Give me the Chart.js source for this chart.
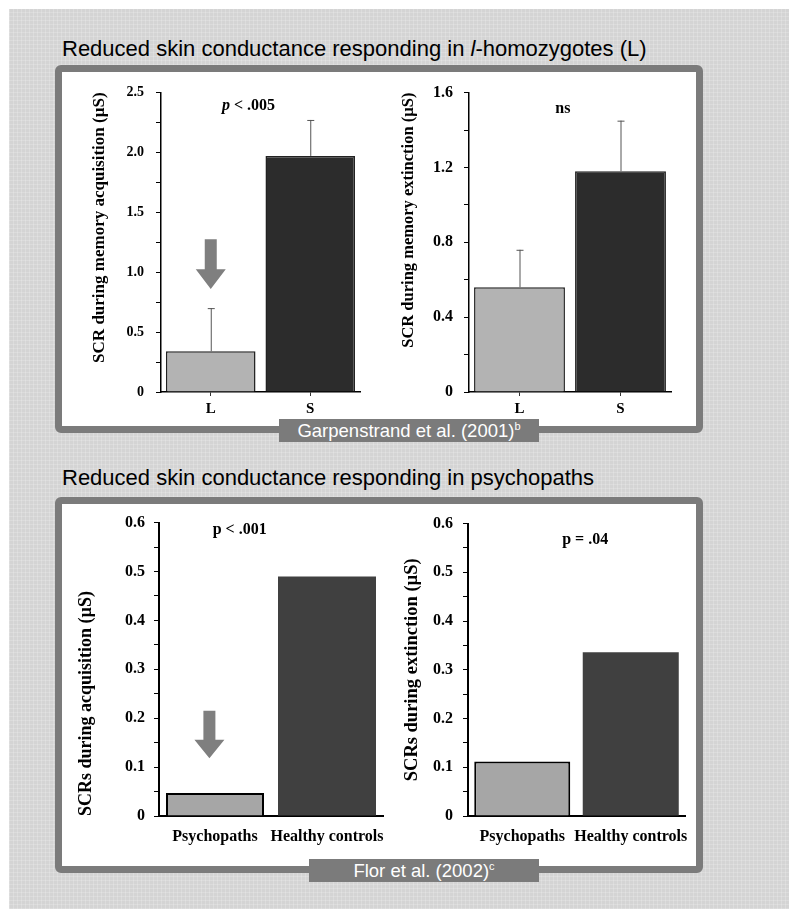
<!DOCTYPE html>
<html>
<head>
<meta charset="utf-8">
<script src="https://cdn.jsdelivr.net/npm/chart.js@4"></script>
<style>
  body { margin: 0; width: 799px; height: 919px; position: relative; background: #fff; overflow: hidden; }
  .bg {
    position: absolute; left: 9px; top: 9px; width: 780px; height: 900px;
    background:
      repeating-linear-gradient(0deg, rgba(255,255,255,0.18) 0 1px, transparent 1px 4px),
      repeating-linear-gradient(90deg, rgba(255,255,255,0.18) 0 1px, transparent 1px 4px),
      #d4d4d4;
  }
  .title { position: absolute; left: 62px; font: 22px "Liberation Sans", Arial, sans-serif; color: #000; line-height: 26px; white-space: nowrap; }
  .panel { position: absolute; left: 55px; width: 648px; box-sizing: border-box; border: 7px solid #7b7b7b; border-radius: 6px; background: #fff; }
  .cap { position: absolute; background: #7b7b7b; color: #fff; font: 18.5px "Liberation Sans", Arial, sans-serif; text-align: center; line-height: 23px; height: 23px; z-index: 3; }
  .cap sup { font-size: 11px; line-height: 0; vertical-align: 7px; }
  canvas { position: absolute; z-index: 2; }
</style>
</head>
<body>
<div class="bg"></div>
<div class="title" style="top:36px">Reduced skin conductance responding in <i>l</i>-homozygotes (L)</div>
<div class="panel" style="top:65px;height:368px"></div>
<div class="cap" style="left:279px;top:419px;width:260px">Garpenstrand et al. (2001)<sup>b</sup></div>
<div class="title" style="top:465px">Reduced skin conductance responding in psychopaths</div>
<div class="panel" style="top:497px;height:376px"></div>
<div class="cap" style="left:309px;top:859px;width:230px">Flor et al. (2002)<sup>c</sup></div>

<canvas id="c1"></canvas>
<canvas id="c2"></canvas>
<canvas id="c3"></canvas>
<canvas id="c4"></canvas>

<script>
// data
const geneGroups = ["L", "S"];
const geneAcq = [0.34, 1.97];
const geneAcqErr = [0.36, 0.30];
const geneExt = [0.56, 1.18];
const geneExtErr = [0.20, 0.27];
const geneAcqTicks = [0, 0.5, 1.0, 1.5, 2.0, 2.5];
const geneExtTicks = [0, 0.4, 0.8, 1.2, 1.6];

const psyGroups = ["Psychopaths", "Healthy controls"];
const psyAcq = [0.047, 0.49];
const psyExt = [0.112, 0.336];
const psyTicks = [0, 0.1, 0.2, 0.3, 0.4, 0.5, 0.6];

const serif = "'Liberation Serif', 'Times New Roman', serif";

// error bars, arrow and p-value note
const extras = {
  id: "extras",
  afterDatasetsDraw(chart, args, opts) {
    const { ctx, scales: { x, y } } = chart;
    const ds = chart.data.datasets[0];
    const meta = chart.getDatasetMeta(0);
    ctx.save();
    if (ds.errors) {
      ctx.strokeStyle = "#555";
      ctx.lineWidth = 1;
      meta.data.forEach((bar, i) => {
        const base = y.getPixelForValue(ds.data[i]);
        const top = y.getPixelForValue(ds.data[i] + ds.errors[i]);
        ctx.beginPath();
        ctx.moveTo(bar.x + 0.5, base);
        ctx.lineTo(bar.x + 0.5, top);
        ctx.moveTo(bar.x - 3, top + 0.5);
        ctx.lineTo(bar.x + 4, top + 0.5);
        ctx.stroke();
      });
    }
    if (opts.arrow) {
      const a = opts.arrow;
      const cx = x.getPixelForValue(a.index);
      const y0 = y.getPixelForValue(a.from);
      const y1 = y.getPixelForValue(a.head);
      const y2 = y.getPixelForValue(a.to);
      ctx.fillStyle = "#7f7f7f";
      ctx.beginPath();
      ctx.moveTo(cx - 6, y0);
      ctx.lineTo(cx + 6, y0);
      ctx.lineTo(cx + 6, y1);
      ctx.lineTo(cx + 15, y1);
      ctx.lineTo(cx, y2);
      ctx.lineTo(cx - 15, y1);
      ctx.lineTo(cx - 6, y1);
      ctx.closePath();
      ctx.fill();
    }
    if (opts.note) {
      const n = opts.note;
      const parts = n.parts;
      let total = 0;
      parts.forEach(p => { ctx.font = p[1]; total += ctx.measureText(p[0]).width; });
      let px = x.getPixelForValue(n.index) - total / 2;
      const py = y.getPixelForValue(n.value);
      ctx.fillStyle = "#000";
      ctx.textBaseline = "middle";
      ctx.textAlign = "left";
      parts.forEach(p => {
        ctx.font = p[1];
        ctx.fillText(p[0], px, py);
        px += ctx.measureText(p[0]).width;
      });
    }
    ctx.restore();
  }
};

function makeChart(id, box, area, spec) {
  const cv = document.getElementById(id);
  cv.width = box.w;
  cv.height = box.h;
  cv.style.left = box.x + "px";
  cv.style.top = box.y + "px";

  const titleOffset = spec.titleSize * 1.2 / 2;
  const padLeft = spec.titleX - box.x - titleOffset;
  const yWidth = area.left - box.x - padLeft;
  const xHeight = box.y + box.h - area.bottom;
  const isMajor = v => spec.majors.some(m => Math.abs(m - v) < 1e-6);

  return new Chart(cv, {
    type: "bar",
    data: {
      labels: spec.labels,
      datasets: [{
        data: spec.values,
        errors: spec.errors,
        backgroundColor: spec.colors,
        borderColor: spec.borderColors,
        borderWidth: spec.borderWidths,
        categoryPercentage: 1,
        barPercentage: spec.barPct,
      }],
    },
    options: {
      responsive: false,
      animation: false,
      layout: {
        padding: { left: padLeft, top: area.top - box.y, right: box.x + box.w - area.right, bottom: 0 },
      },
      plugins: {
        legend: { display: false },
        tooltip: { enabled: false },
        extras: { arrow: spec.arrow, note: spec.note },
      },
      scales: {
        x: {
          afterFit: s => { s.height = xHeight; s.paddingLeft = 0; s.paddingRight = 0; },
          border: { color: "#000", width: spec.axisWidth },
          grid: { display: true, offset: false, drawOnChartArea: false, drawTicks: spec.xTicks, tickLength: 4, color: "#333" },
          ticks: {
            color: "#000", padding: spec.xPad, autoSkip: false, maxRotation: 0, minRotation: 0,
            font: { family: serif, size: spec.xSize, weight: "bold" },
          },
        },
        y: {
          min: 0,
          max: spec.max,
          afterFit: s => { s.width = yWidth; },
          border: { color: "#000", width: spec.axisWidth },
          grid: { drawOnChartArea: false, drawTicks: true, tickLength: 5, color: "#000" },
          ticks: {
            stepSize: spec.step,
            autoSkip: false,
            color: "#000",
            padding: spec.yPad,
            font: { family: serif, size: spec.ySize, weight: "bold" },
            callback: v => isMajor(v) ? (v === 0 ? "0" : v.toFixed(spec.digits)) : "",
          },
          title: {
            display: true,
            text: spec.title,
            align: spec.titleAlign,
            padding: 0,
            color: "#000",
            font: { family: serif, size: spec.titleSize, weight: "bold" },
          },
        },
      },
    },
    plugins: [extras],
  });
}

makeChart("c1", { x: 62, y: 72, w: 305, h: 350 }, { left: 161, right: 360, top: 92, bottom: 392 }, {
  labels: geneGroups, values: geneAcq, errors: geneAcqErr,
  colors: ["#b3b3b3", "#2c2c2c"], borderColors: "#222", borderWidths: 1.5, barPct: 0.9,
  max: 2.5, step: 0.25, majors: geneAcqTicks, digits: 1,
  title: "SCR during memory acquisition (µS)", titleSize: 17, titleX: 100, titleAlign: "end",
  ySize: 14, yPad: 12, xSize: 15, xPad: 4, xTicks: true, axisWidth: 1.5,
  arrow: { index: 0, from: 1.275, head: 1.025, to: 0.86 },
  note: { index: 0.38, value: 2.39, parts: [["p", "italic bold 16px " + serif], [" < .005", "bold 16px " + serif]] },
});

makeChart("c2", { x: 400, y: 72, w: 290, h: 350 }, { left: 469, right: 671, top: 91, bottom: 392 }, {
  labels: geneGroups, values: geneExt, errors: geneExtErr,
  colors: ["#b3b3b3", "#2c2c2c"], borderColors: "#222", borderWidths: 1.5, barPct: 0.9,
  max: 1.6, step: 0.2, majors: geneExtTicks, digits: 1,
  title: "SCR during memory extinction (µS)", titleSize: 16.5, titleX: 409, titleAlign: "end",
  ySize: 16, yPad: 11, xSize: 15, xPad: 4, xTicks: true, axisWidth: 1.5,
  note: { index: 0.43, value: 1.515, parts: [["ns", "bold 16px " + serif]] },
});

makeChart("c3", { x: 62, y: 504, w: 338, h: 356 }, { left: 159, right: 383, top: 520, bottom: 816 }, {
  labels: psyGroups, values: psyAcq,
  colors: ["#a6a6a6", "#404040"], borderColors: ["#000", "#404040"], borderWidths: [2, 0], barPct: 0.875,
  max: 0.6, step: 0.05, majors: psyTicks, digits: 1,
  title: "SCRs during acquisition (µS)", titleSize: 18, titleX: 86, titleAlign: "start",
  ySize: 16, yPad: 9, xSize: 16, xPad: 11, xTicks: false, axisWidth: 2,
  arrow: { index: -0.05, from: 0.215, head: 0.156, to: 0.118 },
  note: { index: 0.22, value: 0.586, parts: [["p < .001", "bold 16px " + serif]] },
});

makeChart("c4", { x: 400, y: 504, w: 296, h: 356 }, { left: 468, right: 685, top: 521, bottom: 816 }, {
  labels: psyGroups, values: psyExt,
  colors: ["#a6a6a6", "#404040"], borderColors: ["#000", "#404040"], borderWidths: [2, 0], barPct: 0.885,
  max: 0.6, step: 0.05, majors: psyTicks, digits: 1,
  title: "SCRs during extinction (µS)", titleSize: 18.5, titleX: 412, titleAlign: "center",
  ySize: 16, yPad: 10, xSize: 16, xPad: 11, xTicks: false, axisWidth: 2,
  note: { index: 0.58, value: 0.567, parts: [["p = .04", "bold 16px " + serif]] },
});
</script>
</body>
</html>
